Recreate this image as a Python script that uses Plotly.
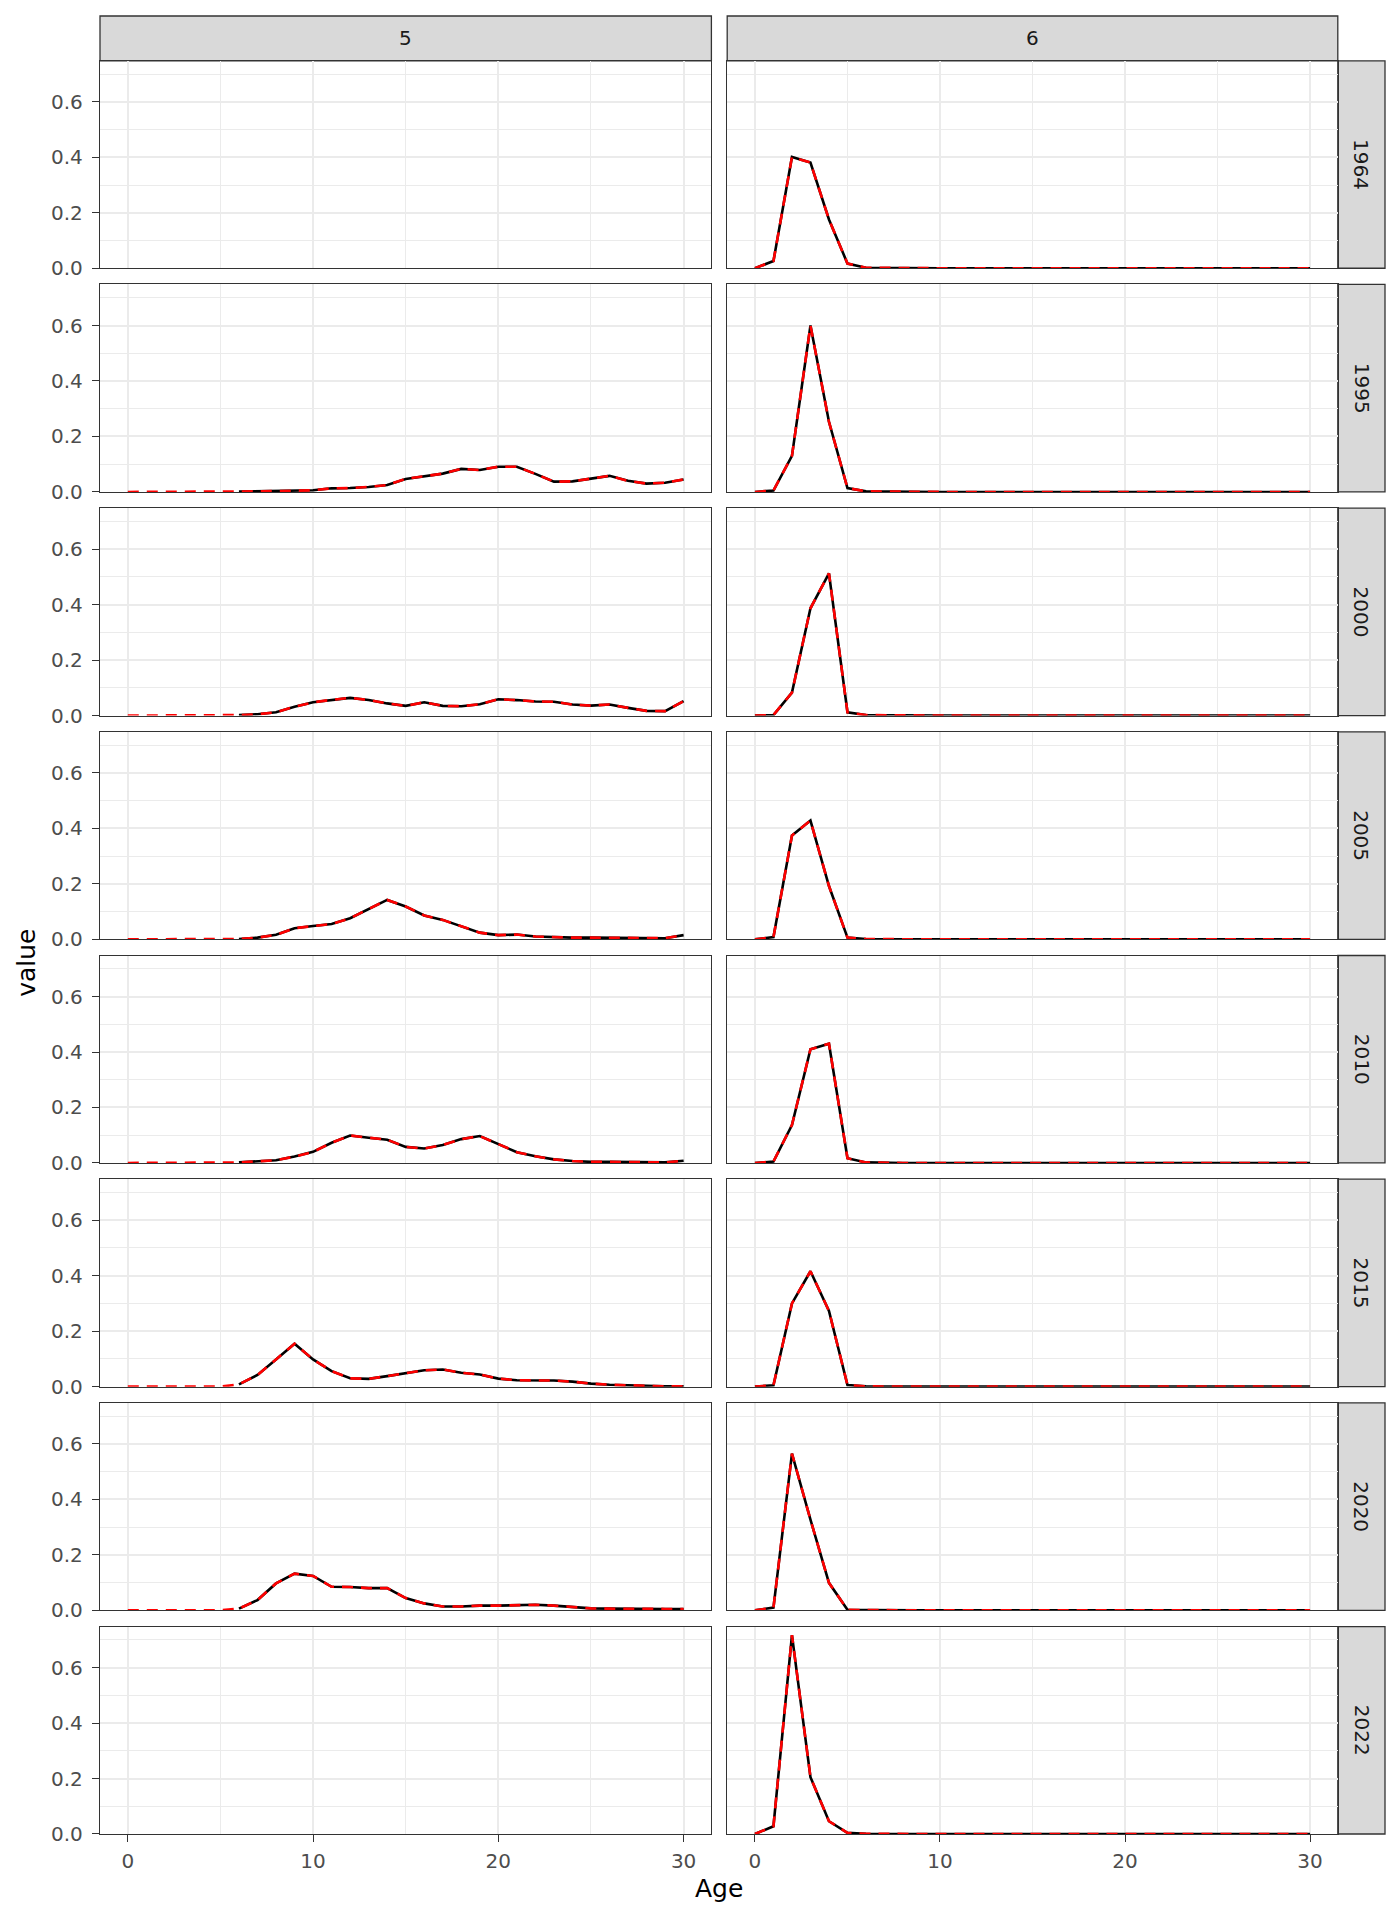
import plotly.graph_objects as go

# ---------------------------------------------------------------------------
# Data: proportion at age, by fleet (columns) and year (rows)
# ---------------------------------------------------------------------------

ages = [0, 1, 2, 3, 4, 5, 6, 7, 8, 9, 10, 11, 12, 13, 14, 15,
        16, 17, 18, 19, 20, 21, 22, 23, 24, 25, 26, 27, 28, 29, 30]
years = ["1964", "1995", "2000", "2005", "2010", "2015", "2020", "2022"]
fleets = ["5", "6"]

# fleet 5 is only observed from age 6 upward
f5_first_obs_age = 6

f5_1995 = [0, 0, 0, 0, 0, 0, 0.001, 0.002, 0.003, 0.004, 0.006, 0.013, 0.014,
           0.018, 0.025, 0.047, 0.056, 0.066, 0.083, 0.079, 0.091, 0.091,
           0.065, 0.037, 0.038, 0.049, 0.058, 0.040, 0.030, 0.033, 0.045]
f5_2000 = [0, 0, 0, 0, 0, 0, 0.002, 0.005, 0.012, 0.032, 0.048, 0.057, 0.064,
           0.056, 0.044, 0.035, 0.048, 0.035, 0.034, 0.041, 0.059, 0.056,
           0.051, 0.050, 0.040, 0.036, 0.040, 0.028, 0.017, 0.016, 0.052]
f5_2005 = [0, 0, 0, 0, 0, 0, 0.001, 0.006, 0.016, 0.040, 0.048, 0.055, 0.076,
           0.110, 0.142, 0.118, 0.086, 0.070, 0.046, 0.024, 0.015, 0.017,
           0.010, 0.007, 0.006, 0.006, 0.006, 0.006, 0.006, 0.004, 0.015]
f5_2010 = [0, 0, 0, 0, 0, 0, 0.002, 0.006, 0.010, 0.023, 0.040, 0.073, 0.099,
           0.091, 0.084, 0.058, 0.052, 0.065, 0.086, 0.097, 0.069, 0.039,
           0.024, 0.013, 0.007, 0.004, 0.004, 0.003, 0.002, 0.002, 0.008]
f5_2015 = [0, 0, 0, 0, 0, 0, 0.008, 0.042, 0.098, 0.155, 0.098, 0.056, 0.030,
           0.028, 0.038, 0.048, 0.059, 0.062, 0.050, 0.044, 0.029, 0.023,
           0.022, 0.022, 0.018, 0.011, 0.007, 0.005, 0.002, 0.001, 0.001]
f5_2020 = [0, 0, 0, 0, 0, 0, 0.006, 0.037, 0.097, 0.132, 0.124, 0.085, 0.084,
           0.080, 0.080, 0.044, 0.025, 0.014, 0.014, 0.017, 0.017, 0.019,
           0.020, 0.017, 0.013, 0.007, 0.006, 0.005, 0.005, 0.005, 0.005]

f6_1964 = [0, 0.026, 0.401, 0.381, 0.176, 0.017, 0.002, 0.001, 0, 0, 0, 0, 0,
           0, 0, 0, 0, 0, 0, 0, 0, 0, 0, 0, 0, 0, 0, 0, 0, 0, 0]
f6_1995 = [0, 0.005, 0.130, 0.600, 0.253, 0.014, 0.002, 0.001, 0, 0, 0, 0, 0,
           0, 0, 0, 0, 0, 0, 0, 0, 0, 0, 0, 0, 0, 0, 0, 0, 0, 0]
f6_2000 = [0, 0.002, 0.083, 0.387, 0.513, 0.012, 0.002, 0.001, 0, 0, 0, 0, 0,
           0, 0, 0, 0, 0, 0, 0, 0, 0, 0, 0, 0, 0, 0, 0, 0, 0, 0]
f6_2005 = [0, 0.008, 0.374, 0.428, 0.192, 0.006, 0.001, 0, 0, 0, 0, 0, 0,
           0, 0, 0, 0, 0, 0, 0, 0, 0, 0, 0, 0, 0, 0, 0, 0, 0, 0]
f6_2010 = [0, 0.005, 0.137, 0.410, 0.430, 0.017, 0.002, 0, 0, 0, 0, 0, 0,
           0, 0, 0, 0, 0, 0, 0, 0, 0, 0, 0, 0, 0, 0, 0, 0, 0, 0]
f6_2015 = [0, 0.005, 0.300, 0.416, 0.273, 0.006, 0.001, 0, 0, 0, 0, 0, 0,
           0, 0, 0, 0, 0, 0, 0, 0, 0, 0, 0, 0, 0, 0, 0, 0, 0, 0]
f6_2020 = [0, 0.010, 0.565, 0.327, 0.099, 0.002, 0.001, 0, 0, 0, 0, 0, 0,
           0, 0, 0, 0, 0, 0, 0, 0, 0, 0, 0, 0, 0, 0, 0, 0, 0, 0]
f6_2022 = [0, 0.028, 0.717, 0.205, 0.046, 0.004, 0.001, 0, 0, 0, 0, 0, 0,
           0, 0, 0, 0, 0, 0, 0, 0, 0, 0, 0, 0, 0, 0, 0, 0, 0, 0]

series = {
    ("5", "1995"): f5_1995, ("5", "2000"): f5_2000, ("5", "2005"): f5_2005,
    ("5", "2010"): f5_2010, ("5", "2015"): f5_2015, ("5", "2020"): f5_2020,
    ("6", "1964"): f6_1964, ("6", "1995"): f6_1995, ("6", "2000"): f6_2000,
    ("6", "2005"): f6_2005, ("6", "2010"): f6_2010, ("6", "2015"): f6_2015,
    ("6", "2020"): f6_2020, ("6", "2022"): f6_2022,
}

# ---------------------------------------------------------------------------
# Layout geometry (figure pixels; the page adds an 8px body margin)
# ---------------------------------------------------------------------------

W, H = 1384, 1904
COL_X = [(92, 703.4), (719.2, 1329.8)]
STRIP_R = (1329.8, 1377)
STRIP_T = (8, 52.8)
ROW_BOT0, ROW_STEP, ROW_H = 260.3, 223.72, 207.5
ML = COL_X[0][0]
MR = W - STRIP_R[1]
MT = STRIP_T[0]
MB = H - (ROW_BOT0 + ROW_STEP * (len(years) - 1))
PW, PH = W - ML - MR, H - MT - MB

GRID = "#EBEBEB"
BORDER = "#333333"
STRIP_BG = "#D9D9D9"
FONT = "DejaVu Sans"
TICK_FONT = dict(family=FONT, size=20, color="#4D4D4D")
STRIP_FONT = dict(family=FONT, size=20, color="#1A1A1A")
TITLE_FONT = dict(family=FONT, size=25, color="black")
LINE_W = 2.6


def fx(px):
    return min(max((px - ML) / PW, 0.0), 1.0)


def fy(py):
    return min(max(1 - (py - MT) / PH, 0.0), 1.0)


fig = go.Figure()
shapes, annotations = [], []

for r, year in enumerate(years):
    bot = ROW_BOT0 + r * ROW_STEP
    top = bot - ROW_H
    for c, fleet in enumerate(fleets):
        n = r * 2 + c + 1
        xa, ya = f"x{n}", f"y{n}"
        xkey = "xaxis" if n == 1 else f"xaxis{n}"
        ykey = "yaxis" if n == 1 else f"yaxis{n}"
        bottom_row = r == len(years) - 1
        left_col = c == 0

        fig.layout[xkey] = dict(
            domain=[fx(COL_X[c][0]), fx(COL_X[c][1])], anchor=ya,
            range=[-1.5, 31.5], tickvals=[0, 10, 20, 30],
            showgrid=True, gridcolor=GRID, gridwidth=2,
            minor=dict(tickvals=[5, 15, 25], showgrid=True,
                       gridcolor=GRID, gridwidth=1.1),
            showline=True, mirror=True, linecolor=BORDER, linewidth=1.3,
            zeroline=False, showticklabels=bottom_row,
            ticks="outside" if bottom_row else "", ticklen=7,
            tickcolor=BORDER, tickwidth=1.3, ticklabelstandoff=2,
            tickfont=TICK_FONT,
        )
        fig.layout[ykey] = dict(
            domain=[fy(bot), fy(top)], anchor=xa,
            range=[0, 0.748], tickvals=[0, 0.2, 0.4, 0.6],
            tickformat=".1f",
            showgrid=True, gridcolor=GRID, gridwidth=2,
            minor=dict(tickvals=[0.1, 0.3, 0.5, 0.7], showgrid=True,
                       gridcolor=GRID, gridwidth=1.1),
            showline=True, mirror=True, linecolor=BORDER, linewidth=1.3,
            zeroline=False, showticklabels=left_col,
            ticks="outside" if left_col else "", ticklen=7,
            tickcolor=BORDER, tickwidth=1.3, ticklabelstandoff=5,
            tickfont=TICK_FONT,
        )

        vals = series.get((fleet, year))
        if vals is None:
            # empty facet: keep the panel frame and grid
            fig.add_trace(go.Scatter(
                x=[], y=[], mode="lines", xaxis=xa, yaxis=ya,
                showlegend=False, hoverinfo="skip",
            ))
            continue
        start = f5_first_obs_age if fleet == "5" else 0
        fig.add_trace(go.Scatter(
            x=ages[start:], y=vals[start:], mode="lines",
            line=dict(color="black", width=LINE_W),
            xaxis=xa, yaxis=ya, showlegend=False, hoverinfo="skip",
        ))
        fig.add_trace(go.Scatter(
            x=ages, y=vals, mode="lines",
            line=dict(color="red", width=LINE_W, dash="11px,8px"),
            xaxis=xa, yaxis=ya, showlegend=False, hoverinfo="skip",
        ))

    # right-hand strip for the year
    shapes.append(dict(
        type="rect", xref="paper", yref="paper",
        x0=fx(STRIP_R[0]), x1=fx(STRIP_R[1]), y0=fy(bot), y1=fy(top),
        fillcolor=STRIP_BG, line=dict(color=BORDER, width=1.3), layer="below",
    ))
    annotations.append(dict(
        x=fx((STRIP_R[0] + STRIP_R[1]) / 2), y=fy((top + bot) / 2),
        xref="paper", yref="paper", xanchor="center", yanchor="middle",
        text=year, showarrow=False, textangle=90, font=STRIP_FONT,
    ))

# top strips for the fleets
for c, fleet in enumerate(fleets):
    shapes.append(dict(
        type="rect", xref="paper", yref="paper",
        x0=fx(COL_X[c][0]), x1=fx(COL_X[c][1]),
        y0=fy(STRIP_T[1]), y1=fy(STRIP_T[0]),
        fillcolor=STRIP_BG, line=dict(color=BORDER, width=1.3), layer="below",
    ))
    annotations.append(dict(
        x=fx((COL_X[c][0] + COL_X[c][1]) / 2), y=fy(sum(STRIP_T) / 2),
        xref="paper", yref="paper", xanchor="center", yanchor="middle",
        text=fleet, showarrow=False, font=STRIP_FONT,
    ))

# axis titles
annotations.append(dict(
    x=(711 - ML) / PW, y=1 - (1881 - MT) / PH, xref="paper", yref="paper",
    xanchor="center", yanchor="middle", text="Age", showarrow=False,
    font=TITLE_FONT,
))
annotations.append(dict(
    x=(19 - ML) / PW, y=1 - (955 - MT) / PH, xref="paper", yref="paper",
    xanchor="center", yanchor="middle", text="value", showarrow=False,
    textangle=-90, font=TITLE_FONT,
))

fig.update_layout(
    width=W, height=H,
    margin=dict(l=ML, r=MR, t=MT, b=MB),
    paper_bgcolor="white", plot_bgcolor="white",
    shapes=shapes, annotations=annotations,
    showlegend=False,
)

fig.write_html("out.html")
